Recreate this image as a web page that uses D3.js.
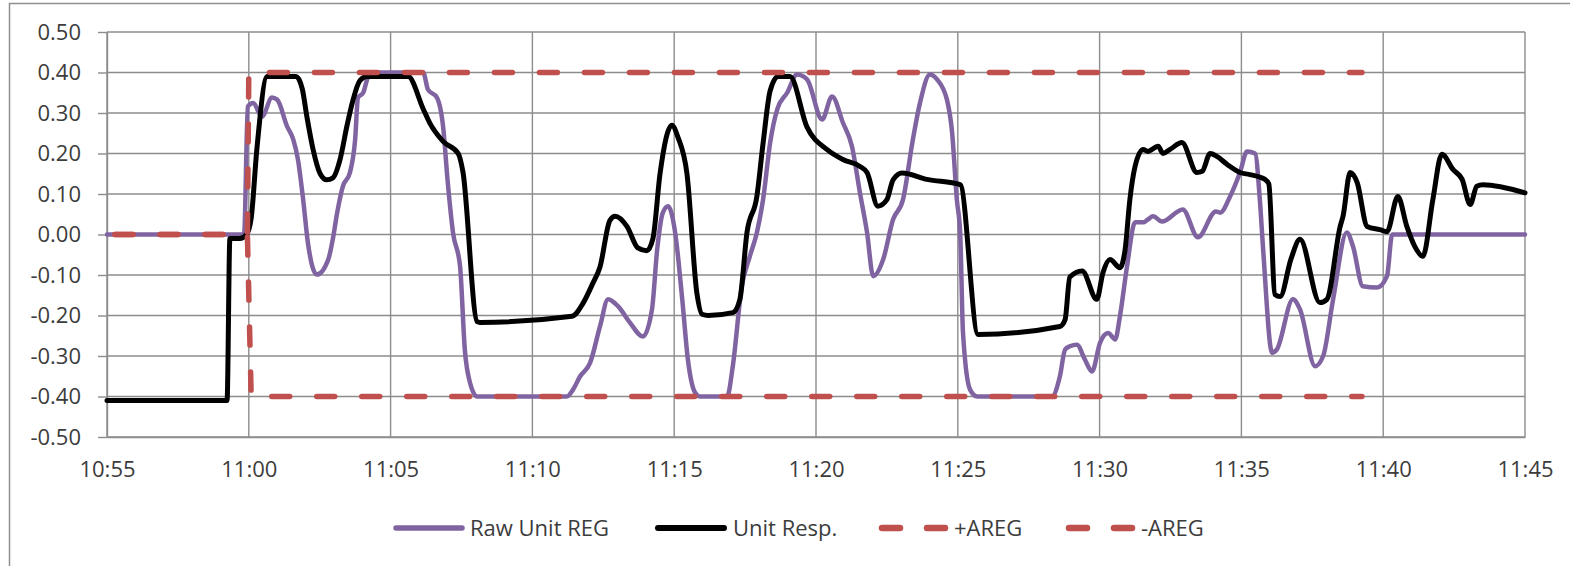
<!DOCTYPE html>
<html>
<head>
<meta charset="utf-8">
<script src="https://cdn.jsdelivr.net/npm/d3@7"></script>
<style>
  html, body { margin: 0; padding: 0; background: #fff; }
  svg { display: block; }
  text { font-family: "Open Sans", sans-serif; fill: #3c3c3c; }
</style>
</head>
<body>
<svg id="chart" width="1570" height="566"></svg>
<script>
// Regulation signal vs unit response, with the +/- AREG band
const rawTimes = ["10:55:00","10:59:50","10:59:58","11:00:09","11:00:28","11:00:49","11:01:00","11:01:21","11:01:34","11:01:44","11:01:55","11:02:05","11:02:24","11:02:48","11:02:58","11:03:07","11:03:19","11:03:34","11:03:45","11:03:51","11:04:02","11:04:12","11:04:27","11:06:09","11:06:19","11:06:38","11:06:51","11:07:01","11:07:12","11:07:27","11:07:37","11:07:48","11:08:03","11:11:13","11:11:26","11:11:41","11:12:02","11:12:23","11:12:40","11:13:01","11:13:26","11:13:54","11:14:13","11:14:24","11:14:36","11:14:47","11:15:02","11:15:17","11:15:29","11:15:44","11:15:55","11:16:52","11:17:04","11:17:23","11:17:40","11:17:55","11:18:08","11:18:23","11:18:38","11:18:59","11:19:20","11:19:41","11:20:13","11:20:34","11:20:57","11:21:16","11:21:33","11:21:48","11:22:01","11:22:22","11:22:43","11:23:04","11:23:25","11:23:40","11:24:01","11:24:16","11:24:37","11:24:48","11:24:58","11:25:05","11:25:11","11:25:26","11:25:41","11:28:19","11:28:36","11:28:47","11:28:57","11:29:12","11:29:29","11:29:44","11:30:01","11:30:18","11:30:33","11:30:43","11:30:58","11:31:15","11:31:32","11:31:42","11:31:53","11:32:12","11:32:56","11:33:28","11:34:06","11:34:15","11:34:36","11:34:57","11:35:12","11:35:29","11:35:39","11:35:46","11:36:05","11:36:15","11:36:49","11:37:04","11:37:36","11:37:53","11:38:14","11:38:43","11:38:56","11:39:17","11:39:47","11:40:08","11:40:19","11:45:00"];
const rawUnitReg = [0,0,0.316,0.325,0.291,0.338,0.333,0.267,0.235,0.185,0.086,-0.02,-0.099,-0.062,-0.01,0.054,0.119,0.153,0.235,0.338,0.35,0.387,0.40,0.40,0.358,0.338,0.267,0.128,0.005,-0.079,-0.284,-0.366,-0.40,-0.40,-0.383,-0.35,-0.317,-0.227,-0.16,-0.177,-0.217,-0.252,-0.185,-0.037,0.054,0.07,0.005,-0.16,-0.309,-0.39,-0.40,-0.40,-0.325,-0.128,-0.054,0.005,0.086,0.227,0.309,0.35,0.395,0.383,0.284,0.341,0.276,0.218,0.103,0.005,-0.103,-0.062,0.037,0.086,0.235,0.325,0.395,0.383,0.333,0.251,0.086,0.005,-0.243,-0.383,-0.40,-0.40,-0.35,-0.284,-0.276,-0.272,-0.309,-0.338,-0.267,-0.243,-0.259,-0.202,-0.079,0.03,0.03,0.037,0.045,0.032,0.062,-0.007,0.057,0.054,0.094,0.153,0.205,0.20,0.086,-0.037,-0.292,-0.284,-0.16,-0.185,-0.325,-0.30,-0.16,0.005,-0.029,-0.128,-0.131,-0.103,0,0];

const respTimes = ["10:55:00","10:59:14","10:59:20","10:59:41","10:59:55","11:00:05","11:00:17","11:00:39","11:01:40","11:01:53","11:02:03","11:02:16","11:02:31","11:02:45","11:02:58","11:03:13","11:03:28","11:03:40","11:03:55","11:04:10","11:05:37","11:06:09","11:06:23","11:06:51","11:07:23","11:07:33","11:08:03","11:08:09","11:11:24","11:11:47","11:12:08","11:12:23","11:12:44","11:12:55","11:13:20","11:13:43","11:14:02","11:14:15","11:14:30","11:14:55","11:15:08","11:15:27","11:15:48","11:15:59","11:16:12","11:17:04","11:17:19","11:17:34","11:17:55","11:18:08","11:18:23","11:18:40","11:19:05","11:19:41","11:20:23","11:20:57","11:21:33","11:21:48","11:22:11","11:22:30","11:22:43","11:23:02","11:23:55","11:25:05","11:25:43","11:28:36","11:28:47","11:28:57","11:29:23","11:29:54","11:30:07","11:30:22","11:30:43","11:30:54","11:31:04","11:31:15","11:31:32","11:31:42","11:32:04","11:32:14","11:32:29","11:32:54","11:33:26","11:33:37","11:33:54","11:34:08","11:34:30","11:34:57","11:35:18","11:35:50","11:35:58","11:36:11","11:36:22","11:36:45","11:37:04","11:37:46","11:38:01","11:38:29","11:38:35","11:38:50","11:39:05","11:39:26","11:39:53","11:40:08","11:40:31","11:40:50","11:41:07","11:41:24","11:41:45","11:42:04","11:42:28","11:42:47","11:43:04","11:43:18","11:43:31","11:45:00"];
const unitResp = [-0.41,-0.41,-0.01,-0.01,0.00,0.04,0.21,0.39,0.39,0.36,0.29,0.21,0.15,0.135,0.14,0.185,0.27,0.33,0.38,0.39,0.39,0.31,0.275,0.23,0.20,0.155,-0.215,-0.217,-0.202,-0.17,-0.12,-0.08,0.035,0.045,0.02,-0.033,-0.04,-0.01,0.15,0.27,0.24,0.15,-0.145,-0.197,-0.20,-0.193,-0.16,0.005,0.095,0.225,0.355,0.39,0.39,0.265,0.21,0.185,0.168,0.153,0.07,0.086,0.135,0.152,0.136,0.123,-0.247,-0.227,-0.21,-0.105,-0.09,-0.16,-0.095,-0.062,-0.082,-0.037,0.086,0.168,0.21,0.205,0.218,0.20,0.21,0.227,0.153,0.156,0.20,0.193,0.173,0.153,0.148,0.136,0.125,-0.148,-0.153,-0.06,-0.012,-0.168,-0.16,0.02,0.045,0.153,0.128,0.02,0.012,0.007,0.094,0.02,-0.03,-0.054,0.086,0.198,0.16,0.136,0.074,0.119,0.123,0.103];

const aregPlusTimes  = ["10:55:00","10:59:57","11:00:00","11:39:15"];
const aregPlus       = [0, 0, 0.40, 0.40];
const aregMinusTimes = ["10:55:00","10:59:57","11:00:05","11:39:15"];
const aregMinus      = [0, 0, -0.40, -0.40];

const xTickLabels = ["10:55","11:00","11:05","11:10","11:15","11:20","11:25","11:30","11:35","11:40","11:45"];
const yTicks = [0.50,0.40,0.30,0.20,0.10,0.00,-0.10,-0.20,-0.30,-0.40,-0.50];
const seriesNames = ["Raw Unit REG","Unit Resp.","+AREG","-AREG"];

const parseT = d3.timeParse("%H:%M:%S");
const parseHM = d3.timeParse("%H:%M");

const margin = {left: 107, right: 45, top: 32, bottom: 129};
const W = 1570, H = 566;
const svg = d3.select("#chart");

// chart frame
svg.append("path")
  .attr("d", "M9.5,570 L9.5,3.5 L1575,3.5")
  .attr("fill", "none").attr("stroke", "#8f8f8f").attr("stroke-width", 1.5);

const x = d3.scaleTime()
  .domain([parseHM(xTickLabels[0]), parseHM(xTickLabels[xTickLabels.length - 1])])
  .range([margin.left, W - margin.right]);
const y = d3.scaleLinear()
  .domain([-0.5, 0.5])
  .range([H - margin.bottom, margin.top]);

const gridColor = "#8c8c8c";
const xTickDates = xTickLabels.map(parseHM);

// gridlines
const grid = svg.append("g");
grid.selectAll("line.h").data(yTicks).join("line")
  .attr("x1", x.range()[0]).attr("x2", x.range()[1])
  .attr("y1", d => y(d)).attr("y2", d => y(d))
  .attr("stroke", gridColor).attr("stroke-width", 1.4);
grid.selectAll("line.v").data(xTickDates).join("line")
  .attr("x1", d => x(d)).attr("x2", d => x(d))
  .attr("y1", y.range()[0]).attr("y2", y.range()[1])
  .attr("stroke", gridColor).attr("stroke-width", 1.4);

// axes
const yAxis = d3.axisLeft(y).tickValues(yTicks)
  .tickFormat(d => d.toFixed(2)).tickSizeInner(9).tickSizeOuter(0).tickPadding(17);
const gy = svg.append("g").attr("transform", `translate(${margin.left},0)`).call(yAxis);
gy.select(".domain").attr("stroke", gridColor).attr("stroke-width", 1.4);
gy.selectAll(".tick line").attr("stroke", gridColor).attr("stroke-width", 1.4);
gy.selectAll("text").style("font-size", "22px").attr("fill", "#3c3c3c");

const xAxis = d3.axisBottom(x).tickValues(xTickDates)
  .tickFormat((d, i) => xTickLabels[i]).tickSizeInner(0).tickSizeOuter(0).tickPadding(24);
const gx = svg.append("g").attr("transform", `translate(0,${y.range()[0]})`).call(xAxis);
gx.select(".domain").attr("stroke", gridColor).attr("stroke-width", 1.4);
gx.selectAll("text").style("font-size", "22px").attr("fill", "#3c3c3c");

// series
const line = d3.line().x(d => x(d.t)).y(d => y(d.v));
const smoothLine = d3.line().x(d => x(d.t)).y(d => y(d.v)).curve(d3.curveMonotoneX);
const zipSeries = (times, vals) => times.map((t, i) => ({t: parseT(t), v: vals[i]}));

const colors = {raw: "#8064A2", resp: "#000000", areg: "#C0504D"};

svg.append("path").datum(zipSeries(rawTimes, rawUnitReg))
  .attr("d", smoothLine).attr("fill", "none")
  .attr("stroke", colors.raw).attr("stroke-width", 4.5)
  .attr("stroke-linejoin", "round").attr("stroke-linecap", "round");

svg.append("path").datum(zipSeries(respTimes, unitResp))
  .attr("d", smoothLine).attr("fill", "none")
  .attr("stroke", colors.resp).attr("stroke-width", 5)
  .attr("stroke-linejoin", "round").attr("stroke-linecap", "round");

[[aregPlusTimes, aregPlus], [aregMinusTimes, aregMinus]].forEach(([ts, vs]) => {
  svg.append("path").datum(zipSeries(ts, vs))
    .attr("d", line).attr("fill", "none")
    .attr("stroke", colors.areg).attr("stroke-width", 5.5)
    .attr("stroke-linecap", "round")
    .attr("stroke-dasharray", "18 27").attr("stroke-dashoffset", 37);
});

// legend
const legendY = 528;
const legendItems = [
  {name: seriesNames[0], color: colors.raw, w: 4.5, dash: null, x0: 393, tx: 470},
  {name: seriesNames[1], color: colors.resp, w: 5, dash: null, x0: 655, tx: 733},
  {name: seriesNames[2], color: colors.areg, w: 5.5, dash: "18 27", x0: 879, tx: 954},
  {name: seriesNames[3], color: colors.areg, w: 5.5, dash: "18 27", x0: 1066, tx: 1141}
];
const lg = svg.append("g");
legendItems.forEach(it => {
  lg.append("line")
    .attr("x1", it.x0 + 3).attr("x2", it.x0 + 69)
    .attr("y1", legendY).attr("y2", legendY)
    .attr("stroke", it.color).attr("stroke-width", it.w + 1)
    .attr("stroke-linecap", "round")
    .attr("stroke-dasharray", it.dash);
  lg.append("text")
    .attr("x", it.tx).attr("y", legendY).attr("dy", "0.35em")
    .style("font-size", "22px").text(it.name);
});
</script>
</body>
</html>
